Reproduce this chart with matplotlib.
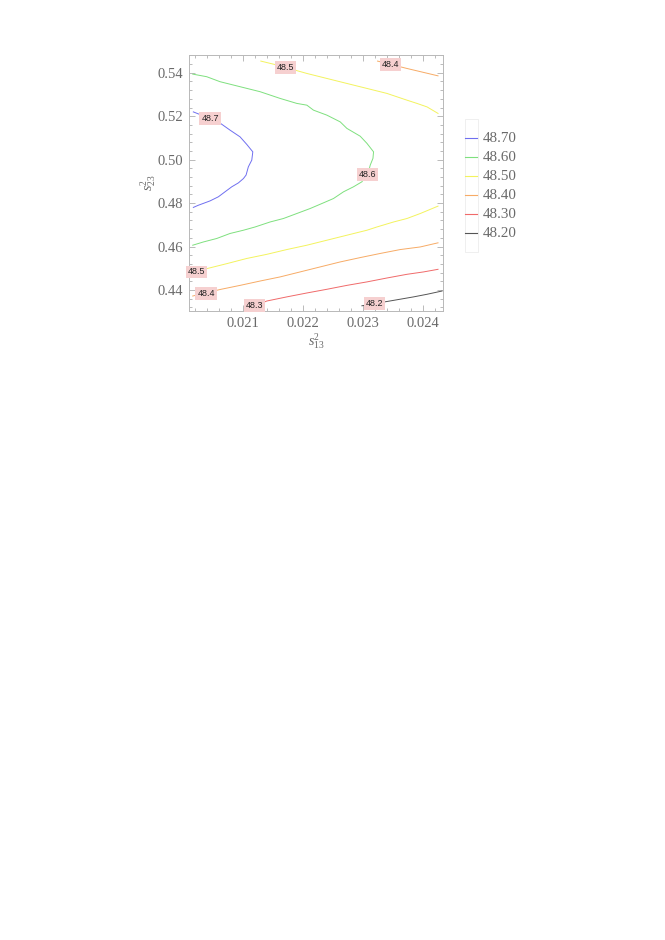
import matplotlib
matplotlib.use("Agg")
import matplotlib.pyplot as plt
from matplotlib.lines import Line2D
from matplotlib.patches import Rectangle
from matplotlib.ticker import MultipleLocator

plt.rcParams['font.family'] = ['Liberation Serif', 'DejaVu Serif']
plt.rcParams['mathtext.fontset'] = 'custom'
plt.rcParams['mathtext.rm'] = 'Liberation Serif'
plt.rcParams['mathtext.it'] = 'Liberation Serif:italic'

# ---- data: contour lines (s13^2, s23^2) ----
levels = [48.7, 48.6, 48.5, 48.4, 48.3, 48.2]
level_colors = ['#6f6ff0', '#7ee07e', '#f3f35e', '#f7ab66', '#f06a6a', '#555555']

s13_c487 = [0.020172, 0.020589, 0.020783, 0.02095, 0.021062, 0.021162, 0.021145,
            0.021088, 0.02105, 0.021006, 0.020922, 0.020812, 0.0207, 0.020589,
            0.02045, 0.020255, 0.020172]
s23_c487 = [0.5220, 0.5174, 0.5136, 0.5105, 0.5070, 0.5036, 0.4998,
            0.4967, 0.4929, 0.4913, 0.4893, 0.4875, 0.4852, 0.4829,
            0.4810, 0.4790, 0.4780]

s13_c486 = [0.020162, 0.020395, 0.020617, 0.02095, 0.021283, 0.021617, 0.021895,
            0.022062, 0.022172, 0.022395, 0.022617, 0.022728, 0.02295, 0.023062,
            0.023172, 0.023162, 0.023117, 0.023088, 0.022978, 0.022838, 0.022672,
            0.022505, 0.022312, 0.022117, 0.021895, 0.021672, 0.02145, 0.0212,
            0.021006, 0.020783, 0.020562, 0.02034, 0.020162]
s23_c486 = [0.5394, 0.5382, 0.5359, 0.5336, 0.5313, 0.5282, 0.5259,
            0.5251, 0.5228, 0.5205, 0.5174, 0.5144, 0.5108, 0.5075,
            0.5036, 0.5006, 0.4975, 0.4944, 0.4898, 0.4875, 0.4852,
            0.4821, 0.4798, 0.4775, 0.4752, 0.4729, 0.4713, 0.4690,
            0.4675, 0.4660, 0.4637, 0.4621, 0.4606]

s13_c485a = [0.021295, 0.021562, 0.022062, 0.022395, 0.022728, 0.023062,
             0.023395, 0.023728, 0.023895, 0.024062, 0.024245]
s23_c485a = [0.5454, 0.5436, 0.5397, 0.5374, 0.5351, 0.5328,
             0.5305, 0.5274, 0.5259, 0.5243, 0.5213]

s13_c485b = [0.020162, 0.020395, 0.020728, 0.021062, 0.021395, 0.021728, 0.022062,
             0.022395, 0.022728, 0.023062, 0.023228, 0.023505, 0.023728, 0.02395,
             0.024245]
s23_c485b = [0.4483, 0.4498, 0.4521, 0.4545, 0.4564, 0.4586, 0.4606,
             0.4629, 0.4652, 0.4675, 0.4690, 0.4713, 0.4729, 0.4752,
             0.4786]

s13_c484a = [0.023238, 0.023728, 0.024245]
s23_c484a = [0.5454, 0.5420, 0.5386]

s13_c484b = [0.020162, 0.020617, 0.02095, 0.021283, 0.021617, 0.02195, 0.022283,
             0.022617, 0.02295, 0.023283, 0.023617, 0.02395, 0.024245]
s23_c484b = [0.4372, 0.4402, 0.4421, 0.4441, 0.4460, 0.4483, 0.4506,
             0.4529, 0.4549, 0.4568, 0.4586, 0.4598, 0.4617]

s13_c483 = [0.021117, 0.021395, 0.021728, 0.022062, 0.022395, 0.022728,
            0.023062, 0.023395, 0.023728, 0.024005, 0.024245]
s23_c483 = [0.4318, 0.4349, 0.4368, 0.4386, 0.4403, 0.4421,
            0.4437, 0.4455, 0.4472, 0.4483, 0.4495]

s13_c482 = [0.022978, 0.023505, 0.023838, 0.024062, 0.024312]
s23_c482 = [0.4327, 0.4352, 0.4368, 0.4380, 0.4395]

contour_lines = [
    (48.7, s13_c487, s23_c487),
    (48.6, s13_c486, s23_c486),
    (48.5, s13_c485a, s23_c485a),
    (48.5, s13_c485b, s23_c485b),
    (48.4, s13_c484a, s23_c484a),
    (48.4, s13_c484b, s23_c484b),
    (48.3, s13_c483, s23_c483),
    (48.2, s13_c482, s23_c482),
]

# contour label anchor points (s13^2, s23^2, text)
label_s13 = [0.02045, 0.023078, 0.021712, 0.02345, 0.020228, 0.020383, 0.021183, 0.023183]
label_s23 = [0.5190, 0.4932, 0.5425, 0.5439, 0.4483, 0.4383, 0.4329, 0.4337]
label_txt = ['48.7', '48.6', '48.5', '48.4', '48.5', '48.4', '48.3', '48.2']

x_ticks = [0.021, 0.022, 0.023, 0.024]
y_ticks = [0.44, 0.46, 0.48, 0.50, 0.52, 0.54]

# ---- figure ----
W, H = 665, 940
fig = plt.figure(figsize=(W / 100, H / 100), dpi=100)
ax = fig.add_axes([189 / W, 1 - 311 / H, 254 / W, 256 / H])

color_of = dict(zip(levels, level_colors))
for lev, xs, ys in contour_lines:
    ax.plot(xs, ys, color=color_of[lev], lw=0.7, solid_joinstyle='round')

for x, y, t in zip(label_s13, label_s23, label_txt):
    ax.text(x, y, t, ha='center', va='center', fontsize=6.4,
            family=['Liberation Sans', 'DejaVu Sans'], color='#222222', zorder=5,
            bbox=dict(boxstyle='square,pad=0.2', fc='#f6d0d0', ec='none'))

ax.set_xlim(0.0201, 0.024328)
ax.set_ylim(0.4303, 0.5482)
ax.set_xticks(x_ticks)
ax.set_xticklabels([f"{v:.3f}" for v in x_ticks])
ax.set_yticks(y_ticks)
ax.set_yticklabels([f"{v:.2f}" for v in y_ticks])
ax.xaxis.set_minor_locator(MultipleLocator(0.0002))
ax.yaxis.set_minor_locator(MultipleLocator(0.004))

gray = '#6a6a6a'
for sp in ax.spines.values():
    sp.set_color('#b8b8b8')
    sp.set_linewidth(0.7)
ax.tick_params(which='both', direction='in', top=True, right=True,
               color='#a0a0a0', width=0.5)
ax.tick_params(which='major', length=4, labelsize=10.5, labelcolor=gray, pad=4)
ax.tick_params(which='minor', length=2)

ax.set_xlabel(r'$s_{13}^{2}$', fontsize=10, color=gray, labelpad=1)
ax.set_ylabel(r'$s_{23}^{2}$', fontsize=10, color=gray, labelpad=0)

# ---- legend ----
sw_x0, sw_x1 = 465.5 / W, 476.5 / W
fig.add_artist(Rectangle((sw_x0 - 1 / W, 1 - 252 / H), (sw_x1 - sw_x0) + 2 / W, 133 / H,
                         transform=fig.transFigure, fill=False, ec='#ececec', lw=0.6))
for i, (lev, col) in enumerate(zip(levels, level_colors)):
    y = 1 - (138.3 + 19.0 * i) / H
    fig.add_artist(Line2D([sw_x0, sw_x1], [y, y], transform=fig.transFigure,
                          color=col, lw=0.8))
    fig.text(483 / W, y, f"{lev:.2f}", ha='left', va='center',
             fontsize=10.8, color=gray)

fig.savefig('out.png', dpi=100)
